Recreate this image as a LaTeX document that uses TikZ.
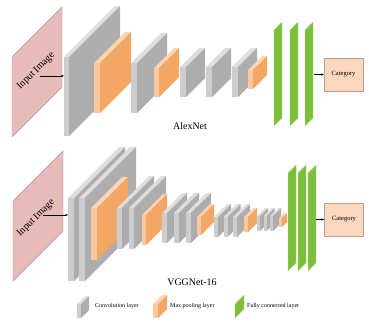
\documentclass[tikz,border=0pt]{standalone}
\usepackage{fontspec}
\setmainfont{Liberation Serif}
\usetikzlibrary{arrows.meta}

\definecolor{cvfront}{HTML}{CDCDCD}
\definecolor{cvside}{HTML}{ADADAD}
\definecolor{cvtop}{HTML}{DEDEDE}
\definecolor{mpfront}{HTML}{FBC89D}
\definecolor{mpside}{HTML}{F2A765}
\definecolor{mptop}{HTML}{FCD5B2}
\definecolor{fcgreen}{HTML}{7CBF3B}
\definecolor{imgpink}{HTML}{E8BBBB}
\definecolor{catfill}{HTML}{FBD7BF}

% Capa en 3D: x frontal, y sup., y inf., ancho, profundidad, color
\newcommand{\capa}[6]{%
  \fill[#6top] (#1,#2) -- ({#1+#5},{#2-#5}) -- ({#1+#4+#5},{#2-#5}) -- ({#1+#4},#2) -- cycle;
  \fill[#6side] ({#1+#4},#2) -- ({#1+#4+#5},{#2-#5}) -- ({#1+#4+#5},{#3-#5}) -- ({#1+#4},#3) -- cycle;
  \fill[#6front] (#1,#2) rectangle ({#1+#4},#3);
}

\begin{document}
\begin{tikzpicture}[
  x=1pt, y=-1pt,
  imgplane/.style={fill=imgpink, draw=imgpink!75!black, line width=0.4pt},
  fcplane/.style={fill=fcgreen, draw=fcgreen!60!white, line width=0.4pt},
  catbox/.style={rectangle, fill=catfill, draw=catfill!75!black, line width=0.4pt,
    minimum width=39pt, minimum height=33pt, inner sep=0pt, font=\fontsize{6.5}{7}\selectfont},
  netlabel/.style={font=\fontsize{10}{12}\selectfont},
  imglabel/.style={rotate=45, font=\fontsize{10}{12}\selectfont},
  legtext/.style={anchor=west, inner sep=0pt, font=\fontsize{6}{7}\selectfont},
  flow/.style={-{Stealth[length=3pt, width=2.4pt]}, line width=0.5pt}
]
  \useasboundingbox (0,0) rectangle (369,324);

  % ---------------- AlexNet ----------------
  \filldraw[imgplane] (12,137) -- (12,57) -- (62,7) -- (62,87) -- cycle;
  \node[imglabel] (inA) at (36,71) {Input Image};

  \capa{64}{57}{136}{5}{51}{cv}
  \capa{94}{63}{113}{6}{31}{mp}
  \capa{131}{63}{113}{6}{30}{cv}
  \capa{154}{68}{97}{5}{20}{mp}
  \foreach \x in {180,206,232} {
    \capa{\x}{67}{97}{6}{19}{cv}
  }
  \capa{248}{70}{89}{5}{14}{mp}

  % Capas totalmente conectadas
  \foreach \x in {274,290,305} {
    \filldraw[fcplane] (\x,126) -- (\x,30) -- ({\x+8},22) -- ({\x+8},118) -- cycle;
  }

  \node[catbox] (catA) at (343.5,74.5) {Category};
  \coordinate (srcA) at (40,76);
  \coordinate (dstA) at (64,76);
  \coordinate (fcA) at (314,74.5);
  \draw[flow] (srcA) -- (dstA);
  \draw[flow] (fcA) -- (catA.west);

  \node[netlabel] (lblA) at (190,126) {AlexNet};

  % ---------------- VGGNet-16 ----------------
  \filldraw[imgplane] (13,281) -- (13,201) -- (63,151) -- (63,231) -- cycle;
  \node[imglabel] (inV) at (36,218) {Input Image};

  \foreach \x in {68,79} {
    \capa{\x}{198}{281}{6}{51}{cv}
  }
  \capa{91}{208}{260}{6}{31}{mp}
  \foreach \x in {117,129} {
    \capa{\x}{208}{249}{5}{32}{cv}
  }
  \capa{142}{215}{245}{4}{21}{mp}
  \foreach \x in {162,174,186} {
    \capa{\x}{213}{243}{5}{20}{cv}
  }
  \capa{197}{217}{235}{4}{13}{mp}
  \foreach \x in {214,223.5,233} {
    \capa{\x}{217}{237}{4}{13}{cv}
  }
  \capa{244}{217}{232}{4}{9}{mp}
  \foreach \x in {257,263.5,270} {
    \capa{\x}{216}{231}{3}{8}{cv}
  }
  \capa{279}{218}{227}{3}{5}{mp}

  \foreach \x in {288,298,308} {
    \filldraw[fcplane] (\x,271) -- (\x,173) -- ({\x+8},165) -- ({\x+8},263) -- cycle;
  }

  \node[catbox] (catV) at (344,219.5) {Category};
  \coordinate (srcV) at (43,215);
  \coordinate (dstV) at (68,215);
  \coordinate (fcV) at (316,219.5);
  \draw[flow] (srcV) -- (dstV);
  \draw[flow] (fcV) -- (catV.west);

  \node[netlabel] (lblV) at (192,282) {VGGNet-16};

  % ---------------- Leyenda ----------------
  \capa{77}{304}{318}{4}{8}{cv}
  \node[legtext] (legcv) at (95,306) {Convolution layer};
  \capa{153}{304}{318}{5}{9}{mp}
  \node[legtext] (legmp) at (170,306) {Max pooling layer};
  \filldraw[fcplane] (235,318) -- (235,304) -- (244,295) -- (244,309) -- cycle;
  \node[legtext] (legfc) at (247,306) {Fully connected layer};
\end{tikzpicture}
\end{document}
